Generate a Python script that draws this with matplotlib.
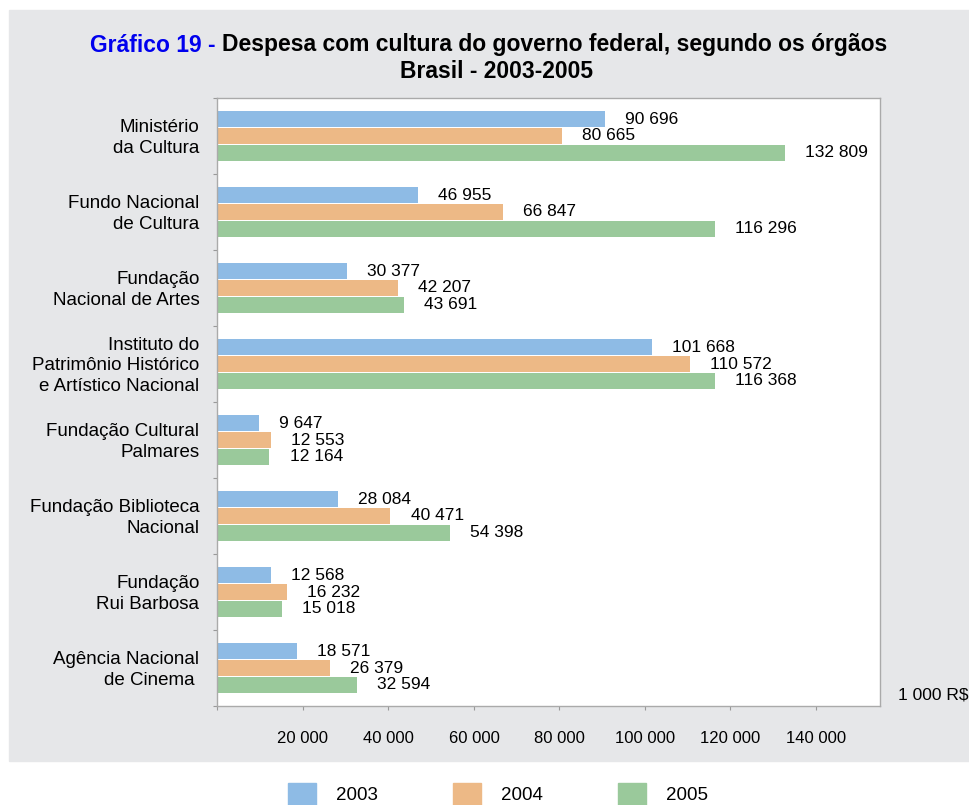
import numpy as np
import matplotlib
matplotlib.use("Agg")
import matplotlib.pyplot as plt
import matplotlib.transforms as mtransforms
from matplotlib.patches import Rectangle, Patch

plt.rcParams['font.family'] = ['Liberation Sans', 'DejaVu Sans']

## dados (1 000 R$)
orgaos = ["Ministério\nda Cultura",
          "Fundo Nacional\nde Cultura",
          "Fundação\nNacional de Artes",
          "Instituto do\nPatrimônio Histórico\ne Artístico Nacional",
          "Fundação Cultural\nPalmares",
          "Fundação Biblioteca\nNacional",
          "Fundação\nRui Barbosa",
          "Agência Nacional\nde Cinema "]
anos = ["2003", "2004", "2005"]
d2003 = [90696, 46955, 30377, 101668, 9647, 28084, 12568, 18571]
d2004 = [80665, 66847, 42207, 110572, 12553, 40471, 16232, 26379]
d2005 = [132809, 116296, 43691, 116368, 12164, 54398, 15018, 32594]
xticks = [0, 20000, 40000, 60000, 80000, 100000, 120000, 140000]

cores = ["#8EBBE5", "#EDB986", "#9AC99B"]
W, H = 970, 805


def fmt(v):
    return f"{v:,}".replace(",", " ")


fig = plt.figure(figsize=(W / 100, H / 100), dpi=100)
fig.patches.append(Rectangle((9 / W, 1 - 761 / H), 1, (761 - 10) / H,
                             transform=fig.transFigure, color="#E6E7E9", zorder=-5))

ax = fig.add_axes([217.5 / W, 1 - 706 / H, (880 - 217.5) / W, (706 - 98) / H])
y = np.arange(len(orgaos))
for i, (vals, c) in enumerate(zip([d2003, d2004, d2005], cores)):
    bars = ax.barh(y + (i - 1) * 0.22, vals, height=0.205, color=c, label=anos[i])
    ax.bar_label(bars, labels=[fmt(v) for v in vals], padding=14.5, fontsize=12.5)

ax.set_xlim(0, 155000)
ax.set_ylim(len(orgaos) - 0.5, -0.5)

for s in ax.spines.values():
    s.set_color("#AAAAAA")
    s.set_linewidth(1)

ax.set_xticks(xticks, [""] + [fmt(v) for v in xticks[1:]])
ax.tick_params(axis="x", length=3, color="#999999", pad=15, labelsize=12)
ax.set_yticks(np.arange(-0.5, len(orgaos), 1.0), [])
ax.set_yticks(y, orgaos, minor=True)
ax.tick_params(axis="y", which="major", length=3, color="#999999")
ax.tick_params(axis="y", which="minor", length=0, pad=13, labelsize=13.5)
## sobe os rotulos 2 px
up = mtransforms.ScaledTranslation(0, 2 / 100, fig.dpi_scale_trans)
for t in ax.get_yticklabels(minor=True):
    t.set_linespacing(1.28)
    t.set_transform(t.get_transform() + up)

fig.text(898 / W, 1 - 695 / H, "1 000 R$", fontsize=12.5, va="center", ha="left")

## titulo
fig.text(216 / W, 1 - 45 / H, "Gráfico 19 -", color="#0000EE", fontsize=16.5,
         fontweight="bold", ha="right", va="center")
fig.text(222 / W, 1 - 45 / H, "Despesa com cultura do governo federal, segundo os órgãos",
         fontsize=16.5, fontweight="bold", ha="left", va="center")
fig.text(497 / W, 1 - 72 / H, "Brasil - 2003-2005", fontsize=16.5, fontweight="bold",
         ha="center", va="center")

handles = [Patch(color=c) for c in cores]
fig.legend(handles, anos, loc="center", bbox_to_anchor=(498 / W, 1 - 794 / H),
           ncol=3, frameon=False, fontsize=13.5, handlelength=1.5, handleheight=1.35,
           handletextpad=1.07, columnspacing=4.0)

fig.savefig("out.png", dpi=100)
